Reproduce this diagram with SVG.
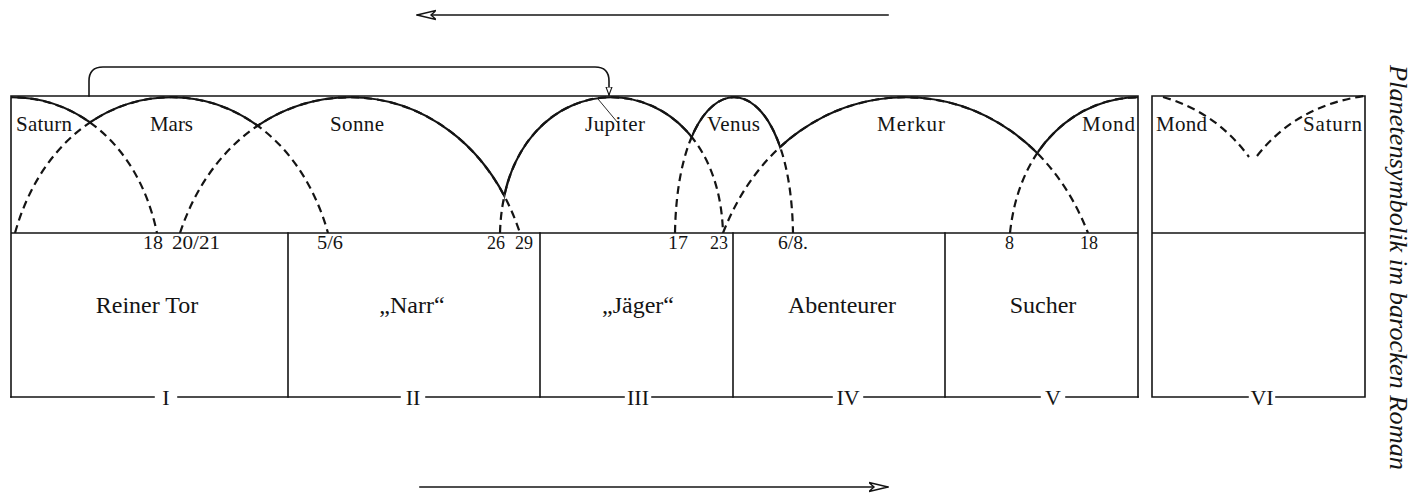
<svg xmlns="http://www.w3.org/2000/svg" xmlns:xlink="http://www.w3.org/1999/xlink" width="1420" height="494" viewBox="0 0 1420 494">
<style>
.ln{fill:none;stroke:#141414;stroke-width:1.6;stroke-linecap:square}
.arc{fill:none;stroke:#141414;stroke-width:2.2}
.dash{stroke-dasharray:8 5}
.pl{font-family:"Liberation Serif",serif;font-size:21px;fill:#141414}
.num{font-family:"Liberation Serif",serif;font-size:18px;fill:#141414}
.lab{font-family:"Liberation Serif",serif;font-size:24px;fill:#141414;text-anchor:middle}
.rom{font-family:"Liberation Serif",serif;font-size:22px;fill:#141414;text-anchor:middle}
.cap{font-family:"Liberation Serif",serif;font-style:italic;font-size:26px;fill:#141414}
</style>
<defs>
<marker id="bigArrow" viewBox="0 -6 20 12" refX="19" refY="0" markerWidth="20" markerHeight="12" markerUnits="userSpaceOnUse" orient="auto-start-reverse">
<path d="M0,-4.5 L19,0 L0,4.5 L5,0 Z" fill="#fff" stroke="#141414" stroke-width="1.4"/>
</marker>
<marker id="smallArrow" viewBox="0 -4 9 8" refX="8.5" refY="0" markerWidth="9" markerHeight="8" markerUnits="userSpaceOnUse" orient="auto">
<path d="M0.5,-3 L8.5,0 L0.5,3 Z" fill="#fff" stroke="#141414" stroke-width="1.1"/>
</marker>
<path id="pSaturn" d="M-133,233 C-95,52 119,52 157,233"/>
<path id="pMars" d="M15,233 C66,52 277,52 328,233"/>
<path id="pSonne" d="M180,233 C240,52 460,52 520,233"/>
<path id="pJupiter" d="M500,233 C505,52 718,52 723,233"/>
<path id="pVenus" d="M675,233 C678,52 790,52 793,233"/>
<path id="pMerkur" d="M723,233 C793,52 1018,52 1088,233"/>
<path id="pMond" d="M1010,233 C1029,52 1249,52 1268,233"/>
<clipPath id="cBand"><rect x="11" y="90" width="1127" height="143"/></clipPath>
<clipPath id="cSaturn"><rect x="11" y="90" width="79" height="143"/></clipPath>
<clipPath id="cMars"><rect x="90" y="90" width="168" height="143"/></clipPath>
<clipPath id="cSonne"><rect x="258" y="90" width="246.3" height="143"/></clipPath>
<clipPath id="cJupiter"><rect x="504.3" y="90" width="187.4" height="143"/></clipPath>
<clipPath id="cVenus"><rect x="691.7" y="90" width="88.5" height="143"/></clipPath>
<clipPath id="cMerkur"><rect x="780.2" y="90" width="257" height="143"/></clipPath>
<clipPath id="cMond"><rect x="1037.2" y="90" width="100.8" height="143"/></clipPath>
</defs>
<rect width="1420" height="494" fill="#fff"/>

<g id="frame">
<path class="ln" d="M11,96 H1138 M11,96 V397 M1138,96 V397 M11,233 H1138"/>
<path class="ln" d="M288,233 V397 M540,233 V397 M733,233 V397 M945,233 V397"/>
<path class="ln" d="M11,397 H154 M178,397 H400 M426,397 H624 M652,397 H832 M864,397 H1040 M1066,397 H1138"/>
<path class="ln" d="M1152,96 H1365 V397 M1152,96 V397 M1152,233 H1365 M1152,397 H1248 M1276,397 H1365"/>
</g>

<g id="arcs">
<g clip-path="url(#cBand)" class="arc dash">
<use xlink:href="#pSaturn"/><use xlink:href="#pMars"/><use xlink:href="#pSonne"/><use xlink:href="#pJupiter"/><use xlink:href="#pVenus"/><use xlink:href="#pMerkur"/><use xlink:href="#pMond"/>
</g>
<g class="arc">
<use xlink:href="#pSaturn" clip-path="url(#cSaturn)"/>
<use xlink:href="#pMars" clip-path="url(#cMars)"/>
<use xlink:href="#pSonne" clip-path="url(#cSonne)"/>
<use xlink:href="#pJupiter" clip-path="url(#cJupiter)"/>
<use xlink:href="#pVenus" clip-path="url(#cVenus)"/>
<use xlink:href="#pMerkur" clip-path="url(#cMerkur)"/>
<use xlink:href="#pMond" clip-path="url(#cMond)"/>
</g>
<path class="arc dash" d="M1163,97 Q1216,112 1249,157"/>
<path class="arc dash" d="M1257,156 Q1296,106 1364,96"/>
<path d="M598,99 L618,123" fill="none" stroke="#141414" stroke-width="0.9"/>
</g>

<g id="planets">
<text class="pl" x="16" y="131" textLength="56">Saturn</text>
<text class="pl" x="150" y="131" textLength="43">Mars</text>
<text class="pl" x="330" y="131" textLength="54">Sonne</text>
<text class="pl" x="585" y="131" textLength="60">Jupiter</text>
<text class="pl" x="707" y="131" textLength="53">Venus</text>
<text class="pl" x="877" y="131" textLength="68">Merkur</text>
<text class="pl" x="1082" y="131" textLength="53">Mond</text>
<text class="pl" x="1156" y="131" textLength="51">Mond</text>
<text class="pl" x="1303" y="131" textLength="59">Saturn</text>
</g>

<g id="chapters">
<text class="num" x="143" y="249" textLength="20" lengthAdjust="spacingAndGlyphs">18</text>
<text class="num" x="172" y="249" textLength="48" lengthAdjust="spacingAndGlyphs">20/21</text>
<text class="num" x="317" y="249" textLength="26" lengthAdjust="spacingAndGlyphs">5/6</text>
<text class="num" x="487" y="249" textLength="18" lengthAdjust="spacingAndGlyphs">26</text>
<text class="num" x="515" y="249" textLength="18" lengthAdjust="spacingAndGlyphs">29</text>
<text class="num" x="668" y="249" textLength="20" lengthAdjust="spacingAndGlyphs">17</text>
<text class="num" x="710" y="249" textLength="18" lengthAdjust="spacingAndGlyphs">23</text>
<text class="num" x="778" y="249" textLength="30" lengthAdjust="spacingAndGlyphs">6/8.</text>
<text class="num" x="1005" y="249">8</text>
<text class="num" x="1080" y="249" textLength="18" lengthAdjust="spacingAndGlyphs">18</text>
</g>

<g id="node-I"><text class="lab" x="147" y="313">Reiner Tor</text><text class="rom" x="166" y="405">I</text></g>
<g id="node-II"><text class="lab" x="412" y="313">„Narr“</text><text class="rom" x="413" y="405">II</text></g>
<g id="node-III"><text class="lab" x="638" y="313">„Jäger“</text><text class="rom" x="638" y="405">III</text></g>
<g id="node-IV"><text class="lab" x="842" y="313">Abenteurer</text><text class="rom" x="848" y="405">IV</text></g>
<g id="node-V"><text class="lab" x="1043" y="313">Sucher</text><text class="rom" x="1053" y="405">V</text></g>
<g id="node-VI"><text class="rom" x="1262" y="405">VI</text></g>

<g id="connectors">
<path class="ln" d="M89,96 V81 Q89,67 103,67 H595 Q609,67 609,81 V95" marker-end="url(#smallArrow)"/>
<path class="ln" d="M417,15 H888" marker-start="url(#bigArrow)"/>
<path class="ln" d="M420,487 H888" marker-end="url(#bigArrow)"/>
</g>

<g id="caption">
<text class="cap" transform="translate(1390,65) rotate(90)" textLength="405" lengthAdjust="spacingAndGlyphs">Planetensymbolik im barocken Roman</text>
</g>
</svg>
